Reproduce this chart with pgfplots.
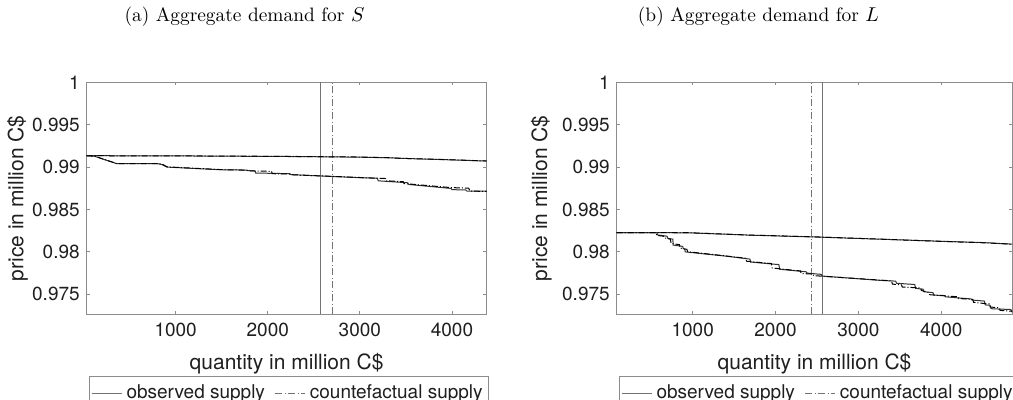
\documentclass[border=0pt]{standalone}
\usepackage{fontspec}
\newfontfamily\hv{TeX Gyre Heros}
\usepackage{pgfplots}
\pgfplotsset{compat=1.18}

\definecolor{axgray}{gray}{0.55}
\definecolor{txtgray}{gray}{0.12}
\definecolor{vgray}{gray}{0.45}

\pgfplotsset{
  demand/.style={
    scale only axis,
    height=116pt,
    ymin=0.97264, ymax=1,
    ytick={0.975,0.98,0.985,0.99,0.995,1},
    yticklabels={0.975,0.98,0.985,0.99,0.995,1},
    xtick={1000,2000,3000,4000},
    xticklabels={1000,2000,3000,4000},
    tick align=inside,
    major tick length=1.6pt,
    axis line style={axgray, line width=0.5pt},
    tick style={axgray, line width=0.4pt},
    ticklabel style={font=\hv\fontsize{9.5}{11}\selectfont, text=txtgray},
    yticklabel style={anchor=east, inner sep=0pt, xshift=-3.3pt},
    xticklabel style={anchor=north, inner sep=0pt, yshift=-4.2pt},
    /pgf/number format/assume math mode=true,
    label style={font=\hv\fontsize{10.5}{12}\selectfont, text=txtgray},
    xlabel={quantity in million C\$},
    xlabel style={at={(axis description cs:0.5,0)}, anchor=north, inner sep=0pt, yshift=-19.5pt},
    ylabel={price in million C\$},
    legend columns=2,
    legend cell align=left,
    legend image code/.code={\draw[#1] (0pt,0pt) -- (15pt,0pt);},
    legend style={
      at={(0,0)}, anchor=north west, xshift=1.2pt, yshift=-31pt,
      draw=axgray, line width=0.4pt,
      font=\hv\fontsize{9.5}{11}\selectfont, text=txtgray,
      inner xsep=1pt, inner ysep=2pt,
      /tikz/every even column/.append style={column sep=3pt},
    },
  },
  obs/.style={black!80, line width=0.5pt, forget plot},
  cf/.style={black, line width=0.5pt, dash pattern=on 3pt off 1pt on 0.5pt off 1pt, forget plot},
  vobs/.style={vgray, line width=0.5pt},
  vcf/.style={vgray, line width=0.5pt, dash pattern=on 3.5pt off 1.2pt on 0.6pt off 1.2pt},
}

\begin{document}
\begin{tikzpicture}
\path[use as bounding box] (0,0) rectangle (506.5pt,200pt);
\clip (0,0) rectangle (506.5pt,200pt);

\node[font=\fontsize{9.7}{12}\selectfont] at (122.25pt,191.5pt) {(a) Aggregate demand for $S$};
\node[font=\fontsize{9.7}{12}\selectfont] at (379.25pt,191.5pt) {(b) Aggregate demand for $L$};

% ---------------- panel (a): S ----------------
\begin{axis}[demand, at={(43.35pt,42.85pt)}, anchor=south west,
  width=199.9pt, xmin=34, xmax=4375,
  ylabel style={at={(axis description cs:-0.146,0.5)}, anchor=south, inner sep=0pt}]
  % clearing quantities
  \addplot[vobs] coordinates {(2570,0.97264) (2570,1)};
  \addlegendentry{observed supply}
  \addplot[vcf] coordinates {(2708,0.97264) (2708,1)};
  \addlegendentry{countefactual supply}
  % upper demand curve
  \addplot[obs] coordinates {(34,0.99134) (800,0.99133) (1500,0.99129) (2200,0.99125)
    (2950,0.99118) (3300,0.99110) (3600,0.99098) (4000,0.99085) (4375,0.99071)};
  \addplot[cf] coordinates {(34,0.99134) (800,0.99133) (1500,0.99130) (2200,0.99126)
    (2950,0.99119) (3350,0.99110) (3420,0.99104) (3700,0.99096) (4000,0.99086) (4375,0.99072)};
  % lower demand curve
  \addplot[obs] coordinates {(34,0.99134) (120,0.99128) (360,0.99040) (800,0.99040)
    (850,0.99030) (905,0.99000) (1480,0.98969) (1770,0.98965) (1780,0.98958)
    (1860,0.98955) (1870,0.98930) (2240,0.98922) (2250,0.98911) (3000,0.98875)
    (3190,0.98868) (3200,0.98838) (3520,0.98815) (3530,0.98795) (3990,0.98748)
    (4000,0.98734) (4150,0.98730) (4160,0.98718) (4375,0.98716)};
  \addplot[cf] coordinates {(34,0.99134) (120,0.99128) (360,0.99042) (820,0.99042)
    (860,0.99030) (910,0.99002) (1480,0.98971) (1790,0.98962) (1800,0.98955)
    (2040,0.98950) (2050,0.98922) (2240,0.98918) (2260,0.98910) (3000,0.98877)
    (3280,0.98865) (3290,0.98838) (3470,0.98828) (3480,0.98806) (3990,0.98758)
    (4180,0.98752) (4200,0.98716) (4375,0.98714)};
\end{axis}

% ---------------- panel (b): L ----------------
\begin{axis}[demand, at={(308.35pt,42.85pt)}, anchor=south west,
  width=197.8pt, xmin=83, xmax=4857,
  ylabel style={at={(axis description cs:-0.163,0.5)}, anchor=south, inner sep=0pt}]
  \addplot[vobs] coordinates {(2572,0.97264) (2572,1)};
  \addlegendentry{observed supply}
  \addplot[vcf] coordinates {(2439,0.97264) (2439,1)};
  \addlegendentry{countefactual supply}
  % upper demand curve
  \addplot[obs] coordinates {(83,0.98228) (950,0.98225) (1700,0.98197) (2500,0.98175)
    (3260,0.98150) (4000,0.98125) (4500,0.98110) (4857,0.98091)};
  \addplot[cf] coordinates {(83,0.98228) (950,0.98226) (1700,0.98198) (2450,0.98178)
    (3300,0.98149) (4050,0.98122) (4550,0.98106) (4857,0.98090)};
  % lower demand curve
  \addplot[obs] coordinates {(83,0.98228) (570,0.98228) (575,0.98200) (690,0.98185)
    (700,0.98160) (760,0.98150) (765,0.98080) (880,0.98065) (885,0.98040)
    (905,0.98030) (910,0.98000) (1400,0.97950) (1690,0.97915) (1700,0.97880)
    (2040,0.97850) (2050,0.97795) (2370,0.97765) (2380,0.97750) (2550,0.97735)
    (2560,0.97715) (3250,0.97665) (3450,0.97655) (3460,0.97630) (3680,0.97615)
    (3690,0.97570) (3780,0.97560) (3790,0.97530) (3900,0.97520) (3910,0.97490)
    (4040,0.97485) (4050,0.97470) (4360,0.97445) (4370,0.97432) (4520,0.97420)
    (4530,0.97375) (4590,0.97370) (4600,0.97330) (4840,0.97320) (4850,0.97295)
    (4857,0.97290)};
  \addplot[cf] coordinates {(83,0.98228) (560,0.98228) (565,0.98195) (650,0.98185)
    (660,0.98165) (730,0.98150) (740,0.98100) (840,0.98085) (850,0.98045)
    (930,0.98030) (940,0.98002) (1400,0.97952) (1640,0.97925) (1650,0.97890)
    (1950,0.97862) (1960,0.97810) (2300,0.97775) (2310,0.97745) (2450,0.97738)
    (2460,0.97720) (3250,0.97668) (3400,0.97658) (3410,0.97620) (3520,0.97610)
    (3530,0.97585) (3750,0.97575) (3760,0.97545) (3850,0.97520) (3860,0.97495)
    (4200,0.97470) (4210,0.97450) (4380,0.97440) (4390,0.97405) (4580,0.97385)
    (4590,0.97350) (4700,0.97340) (4710,0.97310) (4857,0.97300)};
\end{axis}
\end{tikzpicture}
\end{document}
